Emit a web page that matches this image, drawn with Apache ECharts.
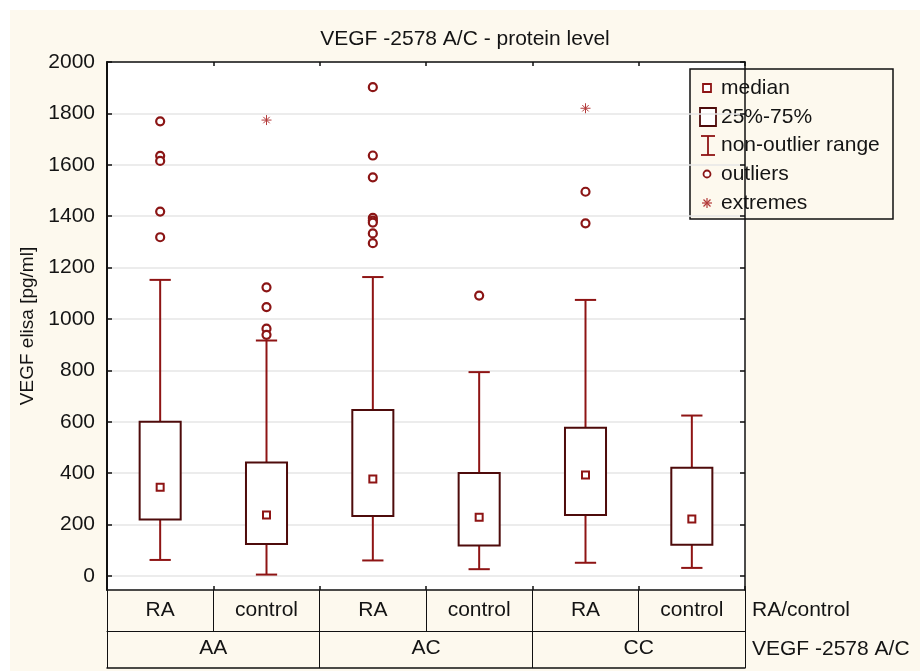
<!DOCTYPE html>
<html><head><meta charset="utf-8">
<script src="https://cdn.jsdelivr.net/npm/echarts@6/dist/echarts.min.js"></script>
<style>
html,body{margin:0;padding:0;background:#fff;}
#wrap{position:relative;width:920px;height:671px;background:#fff;overflow:hidden;}
#bg{position:absolute;left:10px;top:10px;width:910px;height:661px;background:#fdf9ee;}
#main{position:absolute;left:0;top:0;width:920px;height:671px;}
</style></head><body>
<div id="wrap"><div id="bg"></div><div id="main"></div></div>
<script>
// ---- data ----
const categories = ['RA', 'control', 'RA', 'control', 'RA', 'control'];
const groups = ['AA', 'AC', 'CC'];
const yTicks = [0, 200, 400, 600, 800, 1000, 1200, 1400, 1600, 1800, 2000];
const whiskerLow  = [62, 5, 60, 26, 51, 31];
const q1          = [219, 124, 233, 118, 237, 121];
const median      = [345, 237, 377, 228, 393, 221];
const q3          = [600, 441, 646, 400, 576, 421];
const whiskerHigh = [1152, 916, 1163, 793, 1074, 624];
const outliers = [
  [0, 1769], [0, 1635], [0, 1615], [0, 1418], [0, 1318],
  [1, 1123], [1, 1046], [1, 962], [1, 938],
  [2, 1902], [2, 1636], [2, 1551], [2, 1393], [2, 1383], [2, 1375], [2, 1333], [2, 1295],
  [3, 1091],
  [4, 1495], [4, 1372]
];
const extremes = [[1, 1774], [4, 1820]];

// ---- styles ----
const WHISK = '#8e1414';
const BOXC = '#4e0b0b';
const PT = '#8b1515';
const EXT = '#b33a3a';
const CREAM = '#fdf9ee';
const FONT = 'Liberation Sans, Arial, sans-serif';
const TXT = '#141414';
const FS = 21;
const STAR = 'path://M0,5L10,5M5,0L5,10M1.8,1.8L8.2,8.2M8.2,1.8L1.8,8.2';

const boxData = categories.map((c, i) => [i, whiskerLow[i], q1[i], q3[i], whiskerHigh[i]]);

const chart = echarts.init(document.getElementById('main'), null, {renderer: 'canvas'});

function whiskerItem(params, api) {
  const i = api.value(0);
  const bw = api.size([1, 0])[0];
  const pLow = api.coord([i, api.value(1)]);
  const pQ1 = api.coord([i, api.value(2)]);
  const pQ3 = api.coord([i, api.value(3)]);
  const pHigh = api.coord([i, api.value(4)]);
  const cap = bw * 0.1;
  const st = {stroke: WHISK, lineWidth: 2, fill: null};
  return {type: 'group', children: [
    {type: 'line', shape: {x1: pQ3[0], y1: pQ3[1], x2: pHigh[0], y2: pHigh[1]}, style: st},
    {type: 'line', shape: {x1: pQ1[0], y1: pQ1[1], x2: pLow[0], y2: pLow[1]}, style: st},
    {type: 'line', shape: {x1: pHigh[0] - cap, y1: pHigh[1], x2: pHigh[0] + cap, y2: pHigh[1]}, style: st},
    {type: 'line', shape: {x1: pLow[0] - cap, y1: pLow[1], x2: pLow[0] + cap, y2: pLow[1]}, style: st}
  ]};
}
function boxItem(params, api) {
  const i = api.value(0);
  const bw = api.size([1, 0])[0];
  const pQ1 = api.coord([i, api.value(2)]);
  const pQ3 = api.coord([i, api.value(3)]);
  const hw = bw * 0.193;
  return {type: 'rect', shape: {x: pQ3[0] - hw, y: pQ3[1], width: hw * 2, height: pQ1[1] - pQ3[1]},
    style: {fill: '#fff', stroke: BOXC, lineWidth: 2}};
}

const lx = 690, ly = 69;
const legendItems = ['median', '25%-75%', 'non-outlier range', 'outliers', 'extremes'];
const legendY = [88, 117, 145, 174, 203];

function ln(x1, y1, x2, y2, color, w) {
  return {type: 'line', shape: {x1: x1, y1: y1, x2: x2, y2: y2}, style: {stroke: color, lineWidth: w}};
}

const legendChildren = [
  {type: 'rect', shape: {x: 0, y: 0, width: 203, height: 150}, style: {fill: CREAM, stroke: '#111', lineWidth: 1.5}},
  {type: 'rect', shape: {x: 13, y: 15, width: 8, height: 8}, style: {fill: '#fff', stroke: WHISK, lineWidth: 1.8}},
  {type: 'rect', shape: {x: 10, y: 39, width: 16, height: 18}, style: {fill: '#fff', stroke: BOXC, lineWidth: 1.8}},
  ln(18, 67, 18, 86, WHISK, 1.8),
  ln(11, 67, 25, 67, WHISK, 1.8),
  ln(11, 86, 25, 86, WHISK, 1.8),
  {type: 'circle', shape: {cx: 17, cy: 105, r: 3.5}, style: {fill: '#fff', stroke: PT, lineWidth: 1.8}},
  ln(12, 134, 22, 134, EXT, 1.2),
  ln(17, 129, 17, 139, EXT, 1.2),
  ln(13.5, 130.5, 20.5, 137.5, EXT, 1.2),
  ln(20.5, 130.5, 13.5, 137.5, EXT, 1.2)
].concat(legendItems.map((t, k) => ({
  type: 'text', x: 31, y: legendY[k] - ly,
  style: {text: t, font: FS + 'px ' + FONT, fill: TXT, verticalAlign: 'middle'}
})));

const option = {
  animation: false,
  textStyle: {fontFamily: FONT},
  title: {
    text: 'VEGF -2578 A/C - protein level', left: 460, top: 24, textAlign: 'center',
    textStyle: {fontFamily: FONT, fontSize: FS, fontWeight: 'normal', color: TXT}
  },
  grid: {left: 107, top: 62, right: 175, bottom: 81, show: true, backgroundColor: '#fff', borderWidth: 0, containLabel: false},
  xAxis: [
    {type: 'category', data: categories, position: 'bottom', boundaryGap: true,
      axisLine: {show: true, onZero: false, lineStyle: {color: '#111', width: 1.5}},
      axisTick: {show: true, inside: true, length: 4, interval: 0, lineStyle: {color: '#111', width: 1.5}},
      axisLabel: {show: false}, splitLine: {show: false}},
    {type: 'category', data: categories, position: 'bottom', boundaryGap: true,
      axisLine: {show: false, onZero: false},
      axisTick: {show: true, inside: false, length: 41, interval: 0, lineStyle: {color: '#111', width: 1}},
      axisLabel: {show: true, interval: 0, margin: 10, fontSize: FS, color: TXT, fontFamily: FONT},
      splitLine: {show: false}},
    {type: 'category', data: groups, position: 'bottom', offset: 41, boundaryGap: true,
      axisLine: {show: true, onZero: false, lineStyle: {color: '#111', width: 1}},
      axisTick: {show: true, inside: false, length: 37, interval: 0, lineStyle: {color: '#111', width: 1}},
      axisLabel: {show: true, interval: 0, margin: 7, fontSize: FS, color: TXT, fontFamily: FONT},
      splitLine: {show: false}},
    {type: 'category', data: groups, position: 'bottom', offset: 78, boundaryGap: true,
      axisLine: {show: true, onZero: false, lineStyle: {color: '#111', width: 1.5}},
      axisTick: {show: false}, axisLabel: {show: false}, splitLine: {show: false}},
    {type: 'category', data: categories, position: 'top', boundaryGap: true,
      axisLine: {show: true, onZero: false, lineStyle: {color: '#111', width: 1.5}},
      axisTick: {show: true, inside: true, length: 4, interval: 0, lineStyle: {color: '#111', width: 1.5}},
      axisLabel: {show: false}, splitLine: {show: false}}
  ],
  yAxis: [
    {type: 'value', min: -55, max: 2000, position: 'left',
      name: 'VEGF elisa [pg/ml]', nameLocation: 'middle', nameGap: 64, nameRotate: 90,
      nameTextStyle: {fontSize: 19, color: TXT, fontFamily: FONT},
      axisLine: {show: true, onZero: false, lineStyle: {color: '#111', width: 2}},
      axisTick: {show: true, inside: true, length: 5, customValues: yTicks, lineStyle: {color: '#111', width: 1.5}},
      axisLabel: {show: true, customValues: yTicks, margin: 12, fontSize: FS, color: TXT, fontFamily: FONT,
        formatter: v => String(Math.round(v))},
      splitLine: {show: true, lineStyle: {color: '#e6e6e6', width: 1.5}}},
    {type: 'value', min: -55, max: 2000, position: 'right',
      axisLine: {show: true, onZero: false, lineStyle: {color: '#111', width: 1.5}},
      axisTick: {show: true, inside: true, length: 5, customValues: yTicks, lineStyle: {color: '#111', width: 1.5}},
      axisLabel: {show: false}, splitLine: {show: false}}
  ],
  series: [
    {name: 'non-outlier range', type: 'custom', renderItem: whiskerItem, data: boxData,
      encode: {x: 0, y: [1, 2, 3, 4]}, xAxisIndex: 0, yAxisIndex: 0, z: 2},
    {name: '25%-75%', type: 'custom', renderItem: boxItem, data: boxData,
      encode: {x: 0, y: [1, 2, 3, 4]}, xAxisIndex: 0, yAxisIndex: 0, z: 3},
    {name: 'median', type: 'scatter', data: median.map((v, i) => [i, v]), symbol: 'rect', symbolSize: 7,
      itemStyle: {color: '#fff', borderColor: WHISK, borderWidth: 2, opacity: 1}, z: 4},
    {name: 'outliers', type: 'scatter', data: outliers, symbol: 'circle', symbolSize: 8,
      itemStyle: {color: '#fff', borderColor: PT, borderWidth: 2.2, opacity: 1}, z: 4},
    {name: 'extremes', type: 'scatter', data: extremes, symbol: STAR, symbolSize: 10,
      itemStyle: {color: 'transparent', borderColor: EXT, borderWidth: 1, opacity: 1}, z: 4}
  ],
  graphic: [
    {type: 'text', x: 752, y: 610, z: 10, style: {text: 'RA/control', font: FS + 'px ' + FONT, fill: TXT, verticalAlign: 'middle'}},
    {type: 'text', x: 752, y: 649, z: 10, style: {text: 'VEGF -2578 A/C', font: FS + 'px ' + FONT, fill: TXT, verticalAlign: 'middle'}},
    {type: 'group', x: lx, y: ly, z: 50, children: legendChildren}
  ]
};
chart.setOption(option);
</script>
</body></html>
